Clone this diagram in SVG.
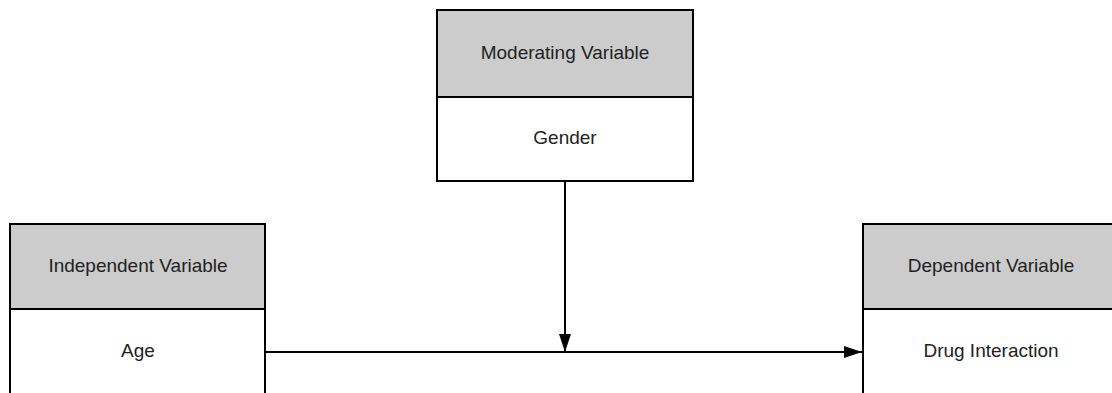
<svg xmlns="http://www.w3.org/2000/svg" width="1112" height="393" viewBox="0 0 1112 393">
<style>
.hd{fill:#cccccc;stroke:#000;stroke-width:2}
.bd{fill:#ffffff;stroke:#000;stroke-width:2}
.t{font-family:"Liberation Sans",Arial,sans-serif;font-size:19px;fill:#222;text-anchor:middle;dominant-baseline:central}
.c{fill:none;stroke:#000;stroke-width:2}
</style>
<defs>
<marker id="arr" viewBox="0 0 18 12" refX="18" refY="6" markerWidth="18" markerHeight="12" markerUnits="userSpaceOnUse" orient="auto">
<path d="M0,0 L18,6 L0,12 Z" fill="#000"/>
</marker>
</defs>
<rect width="1112" height="393" fill="#fff"/>
<g id="moderating">
<rect class="bd" x="437" y="97" width="256" height="84"/>
<rect class="hd" x="437" y="10" width="256" height="87"/>
<text class="t" x="565" y="52">Moderating Variable</text>
<text class="t" x="565" y="137">Gender</text>
</g>
<g id="independent">
<rect class="bd" x="10" y="309" width="255" height="100"/>
<rect class="hd" x="10" y="224" width="255" height="85"/>
<text class="t" x="138" y="265">Independent Variable</text>
<text class="t" x="138" y="350">Age</text>
</g>
<g id="dependent">
<rect class="bd" x="863" y="309" width="256" height="100"/>
<rect class="hd" x="863" y="224" width="256" height="85"/>
<text class="t" x="991" y="265">Dependent Variable</text>
<text class="t" x="991" y="350">Drug Interaction</text>
</g>
<g id="connectors">
<path class="c" d="M265,352 L862,352" marker-end="url(#arr)"/>
<path class="c" d="M565,181 L565,352" marker-end="url(#arr)"/>
</g>
</svg>
